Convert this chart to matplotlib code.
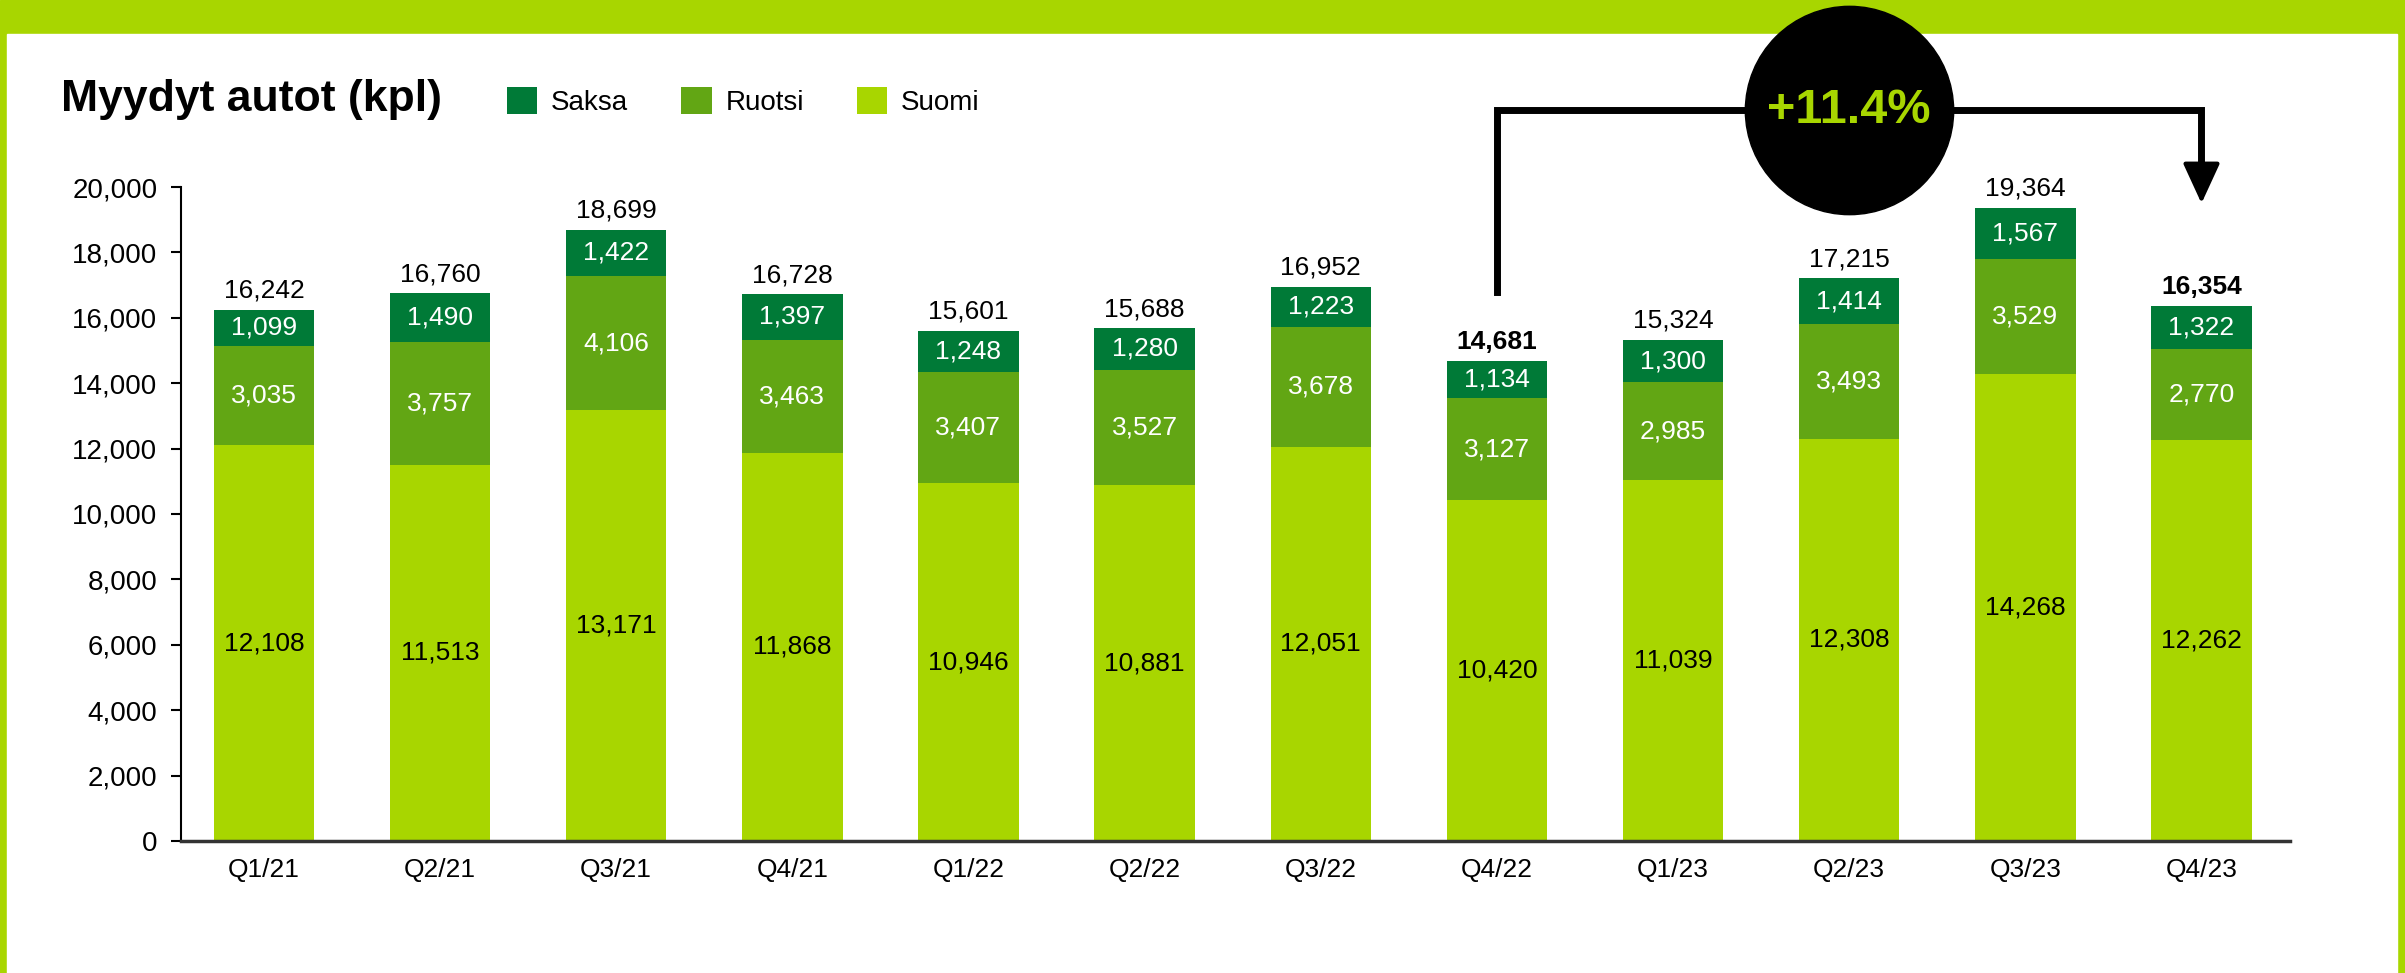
import matplotlib

matplotlib.use("Agg")

import matplotlib.pyplot as plt  # noqa: E402
from matplotlib.patches import Rectangle  # noqa: E402

# data
quarters = ["Q1/21", "Q2/21", "Q3/21", "Q4/21", "Q1/22", "Q2/22",
            "Q3/22", "Q4/22", "Q1/23", "Q2/23", "Q3/23", "Q4/23"]
suomi = [12108, 11513, 13171, 11868, 10946, 10881, 12051, 10420, 11039, 12308, 14268, 12262]
ruotsi = [3035, 3757, 4106, 3463, 3407, 3527, 3678, 3127, 2985, 3493, 3529, 2770]
saksa = [1099, 1490, 1422, 1397, 1248, 1280, 1223, 1134, 1300, 1414, 1567, 1322]
totals = [16242, 16760, 18699, 16728, 15601, 15688, 16952, 14681, 15324, 17215, 19364, 16354]
bold_totals = ["Q4/22", "Q4/23"]
growth_label = "+11.4%"

LIME = "#A8D600"
MID = "#62A614"
DARK = "#007A37"
NARROW = ["Liberation Sans Narrow", "Liberation Sans", "DejaVu Sans"]
PLAIN = ["Liberation Sans", "DejaVu Sans"]

fig = plt.figure(figsize=(24.05, 9.73), dpi=100)
fig.patches.append(Rectangle((0, 0), 1, 1, transform=fig.transFigure,
                             color=LIME, zorder=-10))
fig.patches.append(Rectangle((7 / 2405, 0), (2397 - 7) / 2405, 1 - 34 / 973,
                             transform=fig.transFigure, color="white", zorder=-9))

ax = fig.add_axes([0.0753, 0.1357, 0.952 - 0.0753, 0.8078 - 0.1357])
x = list(range(len(quarters)))
w = 0.57
bottoms2 = [a + b for a, b in zip(suomi, ruotsi)]
ax.bar(x, suomi, w, color=LIME, label="Suomi", zorder=2)
ax.bar(x, ruotsi, w, bottom=suomi, color=MID, label="Ruotsi", zorder=2)
ax.bar(x, saksa, w, bottom=bottoms2, color=DARK, label="Saksa", zorder=2)

for i in x:
    ax.text(i, suomi[i] / 2, f"{suomi[i]:,}", ha="center", va="center",
            fontsize=19, color="black", family=PLAIN)
    ax.text(i, suomi[i] + ruotsi[i] / 2, f"{ruotsi[i]:,}", ha="center", va="center",
            fontsize=19, color="white", family=PLAIN)
    ax.text(i, bottoms2[i] + saksa[i] / 2, f"{saksa[i]:,}", ha="center", va="center",
            fontsize=19, color="white", family=PLAIN)
    top = bottoms2[i] + saksa[i]
    ax.annotate(f"{totals[i]:,}", (i, top), xytext=(0, 5), textcoords="offset points",
                ha="center", va="bottom", fontsize=19, family=PLAIN,
                fontweight="bold" if quarters[i] in bold_totals else "normal")

ax.set_xlim(-0.47, 11.5)
ax.set_ylim(0, 20000)
ax.set_yticks(range(0, 20001, 2000))
ax.set_yticklabels([f"{v:,}" for v in range(0, 20001, 2000)], family=NARROW, fontsize=20)
ax.set_xticks(x)
ax.set_xticklabels(quarters, family=NARROW, fontsize=19)
ax.tick_params(axis="x", length=0, pad=12)
ax.tick_params(axis="y", length=7, width=1.5, pad=10)
for s in ["top", "right"]:
    ax.spines[s].set_visible(False)
ax.spines["left"].set_linewidth(1.5)
ax.spines["bottom"].set_linewidth(2.5)
ax.spines["bottom"].set_color("#333333")

# growth bracket
i0 = quarters.index("Q4/22")
i1 = quarters.index("Q4/23")
y_start, y_line, y_tip = 16800, 22350, 19500
ax.plot([i0, i0, i1, i1], [y_start, y_line, y_line, 20600], color="black",
        lw=5, clip_on=False, solid_joinstyle="miter", zorder=5)
ax.annotate("", xy=(i1, y_tip), xytext=(i1, 20900),
            arrowprops=dict(arrowstyle="-|>,head_length=2.5,head_width=1.15",
                            color="black", lw=3, shrinkA=0, shrinkB=0),
            annotation_clip=False, zorder=5)
xc = (i0 + i1) / 2
ax.scatter([xc], [y_line], s=22500, color="black", clip_on=False, zorder=6)
ax.text(xc, y_line, growth_label, ha="center", va="center", color=LIME,
        fontsize=35, fontweight="bold", family=NARROW, zorder=7)

# title and legend
fig.text(40 * 1.534 / 2405, 1 - 65 * 1.534 / 973, "Myydyt autot (kpl)",
         fontsize=32, fontweight="bold", family=NARROW, va="center")
handles, labels = ax.get_legend_handles_labels()
fig.legend(handles[::-1], labels[::-1], loc="center left",
           bbox_to_anchor=(314 * 1.534 / 2405, 1 - 66 * 1.534 / 973),
           ncol=3, frameon=False, prop={"family": NARROW, "size": 20},
           handlelength=1.1, handleheight=1.1, columnspacing=1.9, handletextpad=0.5)

fig.savefig("out.png", dpi=100)
